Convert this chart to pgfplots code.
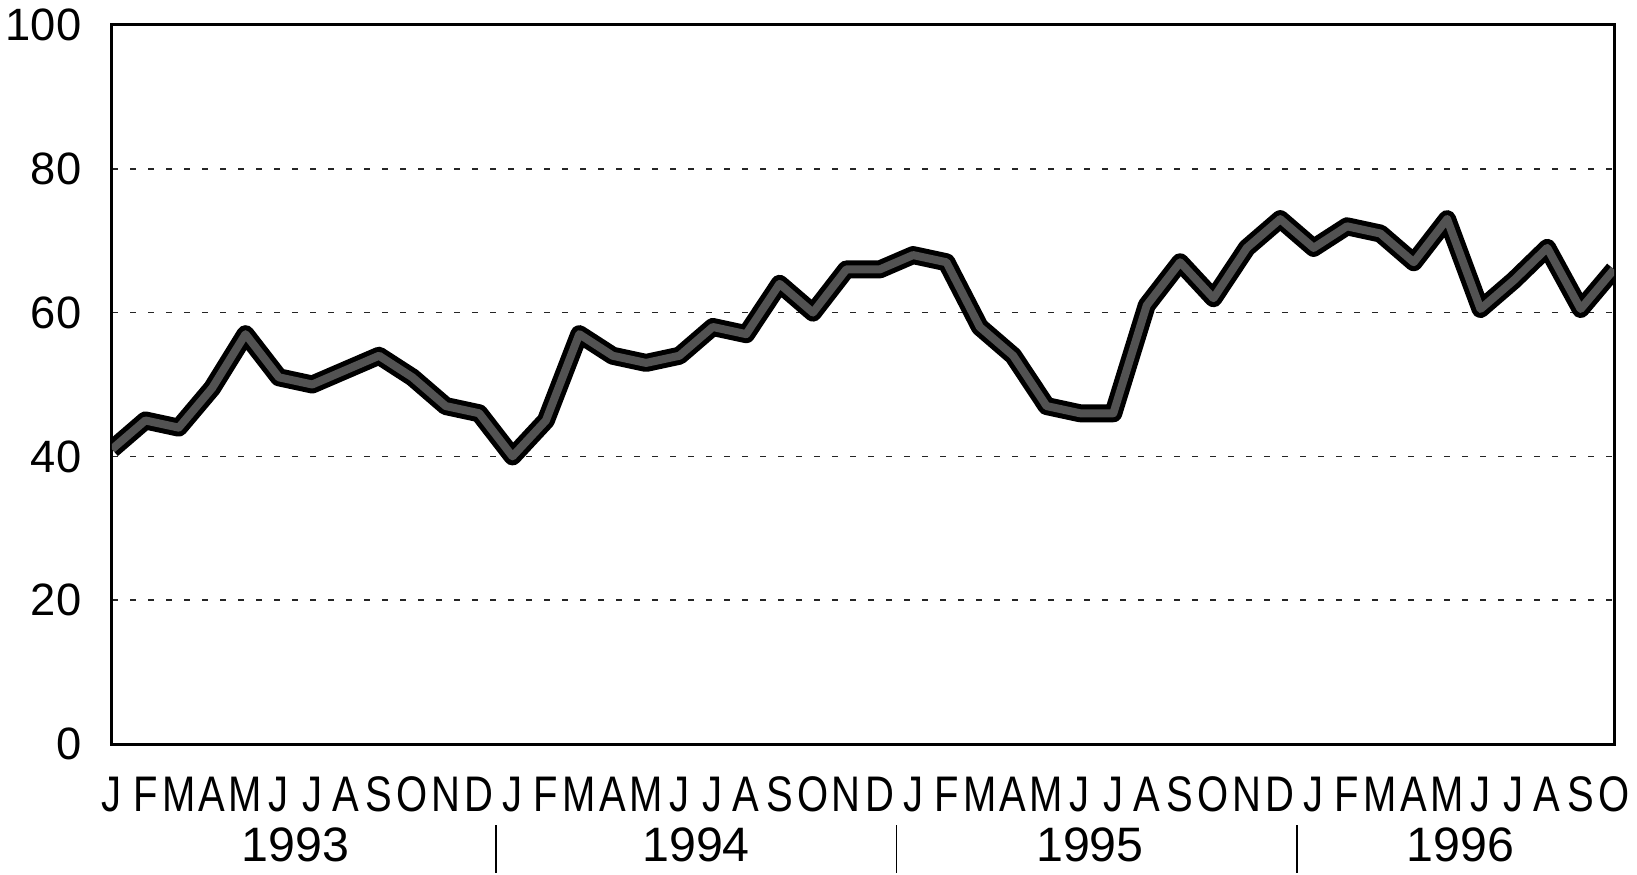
\documentclass[border=0pt]{standalone}
\usepackage{fontspec}
\setmainfont{Liberation Sans}
\usepackage{graphicx}
\usepackage{pgfplots}
\usepackage{pgfplotstable}
\pgfplotsset{compat=1.18}
\usetikzlibrary{calc}

% monthly index, Jan 1993 = 0 ... Oct 1996 = 45
\pgfplotstableread{
idx val
0 41
1 45
2 44
3 49.5
4 57
5 51
6 50
7 52
8 54
9 51
10 47
11 46
12 40
13 45
14 57
15 54
16 53
17 54
18 58
19 57
20 64
21 60
22 66
23 66
24 68
25 67
26 58
27 54
28 47
29 46
30 46
31 61
32 67
33 62
34 69
35 73
36 69
37 72
38 71
39 67
40 73
41 60.5
42 64.5
43 69
44 60.5
45 66
}\series

\newcommand\mo[1]{\scalebox{0.8}[1]{#1}}

\begin{document}
\begin{tikzpicture}
\begin{axis}[
  scale only axis,
  width=450.6pt, height=215.7pt,
  xmin=0, xmax=45, ymin=0, ymax=100,
  axis line style={line width=0.9pt},
  ytick={0,20,...,100},
  xtick={0,...,45},
  xticklabels={\mo{J},\mo{F},\mo{M},\mo{A},\mo{M},\mo{J},\mo{J},\mo{A},\mo{S},\mo{O},\mo{N},\mo{D},
               \mo{J},\mo{F},\mo{M},\mo{A},\mo{M},\mo{J},\mo{J},\mo{A},\mo{S},\mo{O},\mo{N},\mo{D},
               \mo{J},\mo{F},\mo{M},\mo{A},\mo{M},\mo{J},\mo{J},\mo{A},\mo{S},\mo{O},\mo{N},\mo{D},
               \mo{J},\mo{F},\mo{M},\mo{A},\mo{M},\mo{J},\mo{J},\mo{A},\mo{S},\mo{O}},
  tick style={draw=none},
  ymajorgrids,
  grid style={black!85, line width=0.45pt, dash pattern=on 1.8pt off 3.6pt},
  yticklabel style={font=\fontsize{13.6}{16}\selectfont, anchor=east, inner sep=0pt, xshift=-9pt},
  xticklabel style={font=\fontsize{15}{17}\selectfont, anchor=north, inner sep=0pt, yshift=-9.6pt},
  /pgf/number format/assume math mode=true,
  clip mode=individual,
]
\addplot[black, line width=5.4pt, line join=round] table[x=idx, y=val] {\series};
\addplot[black!68, line width=2.4pt, line join=round] table[x=idx, y=val] {\series};

\node[font=\fontsize{14.5}{16}\selectfont, yshift=-30.3pt] at (axis cs:5.5,0) {1993};
\node[font=\fontsize{14.5}{16}\selectfont, yshift=-30.3pt] at (axis cs:17.5,0) {1994};
\node[font=\fontsize{14.5}{16}\selectfont, yshift=-30.3pt] at (axis cs:29.3,0) {1995};
\node[font=\fontsize{14.5}{16}\selectfont, yshift=-30.3pt] at (axis cs:40.4,0) {1996};
\draw[line width=0.5pt] (axis cs:11.5,0) ++(0,-24.3pt) -- ++(0,-14.5pt);
\draw[line width=0.5pt] (axis cs:23.5,0) ++(0,-24.3pt) -- ++(0,-14.5pt);
\draw[line width=0.5pt] (axis cs:35.5,0) ++(0,-24.3pt) -- ++(0,-14.5pt);
\end{axis}
\path ($(current axis.south west)+(-33.6pt,-39pt)$) rectangle ($(current axis.north east)+(6.9pt,7.5pt)$);
\end{tikzpicture}
\end{document}
